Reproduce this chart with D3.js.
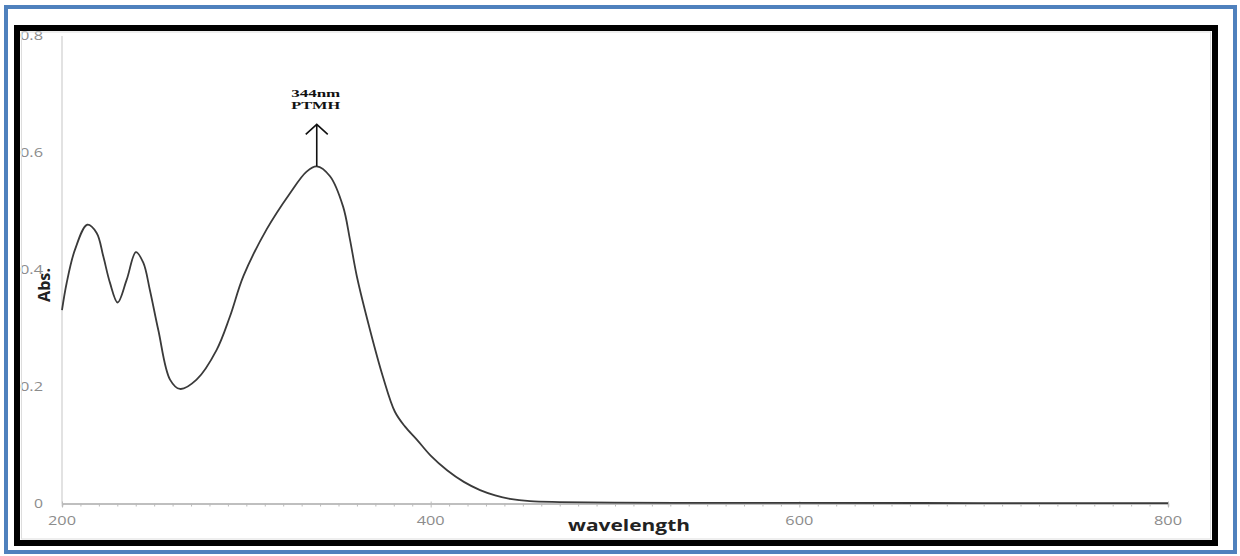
<!DOCTYPE html>
<html>
<head>
<meta charset="utf-8">
<script src="https://cdn.jsdelivr.net/npm/d3@7"></script>
<style>
  body { margin: 0; background: #fff; }
  svg { display: block; }
</style>
</head>
<body>
<svg id="chart" width="1240" height="556"></svg>
<script>
// absorption spectrum
const wavelength = [200, 202.5, 207, 213.7, 218.8, 222.4, 226, 230.2, 235.1, 240.1, 244.1, 247.7, 252.3, 258.6, 264, 273, 283.9, 291.1, 298.4, 311, 323.7, 332.7, 338.2, 345.4, 352.5, 356.2, 360, 367.1, 374.1, 380.6, 386, 392.6, 400, 408.9, 418, 426.8, 435, 443, 453.9, 470, 500, 550, 600, 700, 800];
const absorbance = [0.331, 0.377, 0.434, 0.477, 0.463, 0.423, 0.378, 0.344, 0.383, 0.43, 0.412, 0.365, 0.296, 0.212, 0.196, 0.212, 0.263, 0.32, 0.389, 0.469, 0.531, 0.568, 0.577, 0.56, 0.508, 0.452, 0.388, 0.297, 0.217, 0.157, 0.132, 0.109, 0.082, 0.057, 0.037, 0.023, 0.014, 0.008, 0.004, 0.0025, 0.0015, 0.001, 0.001, 0.0008, 0.0006];
const xTicks = [200, 400, 600, 800];
const yTicks = [0, 0.2, 0.4, 0.6, 0.8];
const peakNm = 338.2;
const peakLabel = ["344nm", "PTMH"];

const svg = d3.select("#chart");

let x = d3.scaleLinear().domain([200, 800]).range([62, 1168]);
let y = d3.scaleLinear().domain([0, 0.8]).range([503.5, 36]);

// outer blue frame
svg.append("rect")
    .attr("x", 6).attr("y", 7).attr("width", 1229).attr("height", 545)
    .attr("fill", "#fff").attr("stroke", "#4f81bd").attr("stroke-width", 4);

// y axis line
svg.append("line")
    .attr("x1", x(200)).attr("x2", x(200))
    .attr("y1", y(0.8)).attr("y2", y(0))
    .attr("stroke", "#d9d9d9").attr("stroke-width", 1.5);

// x axis with minor ticks every 10 nm
let xAxis = d3.axisBottom(x)
    .tickValues(d3.range(200, 801, 10))
    .tickSize(3)
    .tickFormat("");
let gx = svg.append("g")
    .attr("transform", "translate(0," + y(0) + ")")
    .call(xAxis);
gx.select(".domain").attr("stroke", "#aaa").attr("stroke-width", 1.5);
gx.selectAll(".tick line").attr("stroke", "#bbb");
gx.selectAll(".tick").filter(d => d % 200 === 0).select("line")
    .attr("y1", -2).attr("y2", 4);

// tick labels
svg.selectAll(".xlab").data(xTicks).enter().append("text")
    .attr("x", d => x(d))
    .attr("y", 525)
    .attr("text-anchor", "middle")
    .attr("font-family", "Open Sans, sans-serif")
    .attr("font-size", 12)
    .attr("fill", "#8c8c8c")
    .attr("textLength", 28)
    .attr("lengthAdjust", "spacingAndGlyphs")
    .text(d => d);

svg.selectAll(".ylab").data(yTicks).enter().append("text")
    .attr("x", 43)
    .attr("y", d => y(d) + 4)
    .attr("text-anchor", "end")
    .attr("font-family", "Open Sans, sans-serif")
    .attr("font-size", 12.5)
    .attr("fill", "#8c8c8c")
    .attr("textLength", d => d === 0 ? 9 : 23)
    .attr("lengthAdjust", "spacingAndGlyphs")
    .text(d => d === 0 ? "0" : d.toFixed(1));

// spectrum
let line = d3.line()
    .x((d, i) => x(wavelength[i]))
    .y(d => y(d))
    .curve(d3.curveCatmullRom);

svg.append("path")
    .attr("d", line(absorbance))
    .attr("fill", "none")
    .attr("stroke", "#3a3a3a")
    .attr("stroke-width", 1.8);

// peak arrow
let px = x(peakNm);
let py = y(d3.max(absorbance));
let tip = py - 42;
svg.append("path")
    .attr("d", "M" + px + "," + py + "V" + tip + "M" + (px - 11) + "," + (tip + 10) + "L" + px + "," + tip + "L" + (px + 11) + "," + (tip + 10))
    .attr("fill", "none")
    .attr("stroke", "#111")
    .attr("stroke-width", 1.6);

svg.selectAll(".peak").data(peakLabel).enter().append("text")
    .attr("x", px - 1)
    .attr("y", (d, i) => 97 + i * 12)
    .attr("text-anchor", "middle")
    .attr("font-family", "Liberation Serif, Times New Roman, serif")
    .attr("font-weight", "bold")
    .attr("font-size", 11)
    .attr("fill", "#111")
    .attr("textLength", 49)
    .attr("lengthAdjust", "spacingAndGlyphs")
    .text(d => d);

// axis titles
svg.append("text")
    .attr("x", 629).attr("y", 531)
    .attr("text-anchor", "middle")
    .attr("font-family", "Open Sans, sans-serif")
    .attr("font-weight", "bold")
    .attr("font-size", 16)
    .attr("fill", "#222")
    .attr("textLength", 122)
    .attr("lengthAdjust", "spacingAndGlyphs")
    .text("wavelength");

svg.append("text")
    .attr("transform", "translate(50,285) rotate(-90)")
    .attr("text-anchor", "middle")
    .attr("font-family", "Open Sans, sans-serif")
    .attr("font-weight", "bold")
    .attr("font-size", 16)
    .attr("fill", "#222")
    .attr("textLength", 34)
    .attr("lengthAdjust", "spacingAndGlyphs")
    .text("Abs.");

// black picture frame, drawn last so it covers the clipped labels
svg.append("rect")
    .attr("x", 21.5).attr("y", 32).attr("width", 1189).attr("height", 507)
    .attr("fill", "none").attr("stroke", "#ddd").attr("stroke-width", 1);
svg.append("rect")
    .attr("x", 17).attr("y", 28).attr("width", 1198).attr("height", 515)
    .attr("fill", "none").attr("stroke", "#000").attr("stroke-width", 6);
</script>
</body>
</html>
